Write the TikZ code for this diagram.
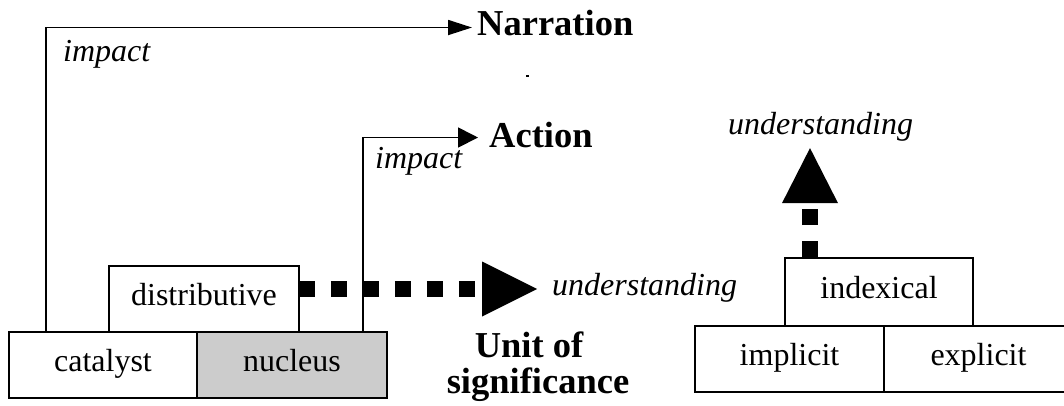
\documentclass[tikz,border=0pt]{standalone}
\usepackage{fontspec}
\setmainfont{Liberation Serif}
\usetikzlibrary{arrows.meta}
\begin{document}
\begin{tikzpicture}[x=1pt,y=-1pt,
  box/.style={draw, line width=1.8pt, rectangle, inner sep=0pt,
    minimum height=66pt, text height=20pt, text depth=8pt,
    font=\fontsize{32}{38}\selectfont},
  lbl/.style={inner sep=0pt, anchor=base west, font=\fontsize{32}{38}\selectfont\itshape},
  ttl/.style={inner sep=0pt, font=\fontsize{36.5}{36}\selectfont\bfseries},
  link/.style={line width=1.8pt},
  dotline/.style={line width=16pt, dash pattern=on 16pt off 16pt}
]
\clip (0,0) rectangle (1064,406);

% left block: catalyst / nucleus with distributive on top
\node[box, minimum width=188pt] (cat) at (103,365) {catalyst};
\node[box, minimum width=190pt, fill=black!20] (nuc) at (292,365) {nucleus};
\node[box, minimum width=190pt] (dist) at (204,299) {distributive};

% right block: implicit / explicit with indexical on top
\node[box, minimum width=189pt] (impl) at (789.5,359) {implicit};
\node[box, minimum width=189pt] (expl) at (978.5,359) {explicit};
\node[box, minimum width=188pt, minimum height=68pt] (idx) at (879,292) {indexical};

% headings
\node[ttl, anchor=base west] (narr) at (477,36) {Narration};
\node[ttl, anchor=base west] (act) at (489,148) {Action};
\node[ttl, anchor=base] (unit) at (529,357) {Unit of};
\node[ttl, anchor=base] (sig) at (538,393) {significance};

% italic labels
\node[lbl] (imp1) at (63,62) {impact};
\node[lbl] (imp2) at (375,168) {impact};
\node[lbl] (und1) at (552,295) {understanding};
\node[lbl] (und2) at (728,135) {understanding};

% impact connectors
\coordinate (nstart) at ([xshift=38pt]cat.north west);
\coordinate (astart) at ([xshift=-25pt]nuc.north east);
\draw[link, -{Triangle[length=24pt,width=15pt]}]
  (nstart) |- ([xshift=-5pt,yshift=-4pt]narr.west);
\draw[link, -{Triangle[length=20pt,width=20pt]}]
  (astart) |- ([xshift=-11pt,yshift=-2pt]act.west);

% understanding connectors
\draw[dotline, -{Triangle[length=55pt,width=55pt,line width=0pt]}]
  ([xshift=-1pt,yshift=10pt]dist.east) -- ([xshift=-15pt]und1.west |- 0,289);
\draw[dotline, -{Triangle[length=55pt,width=56pt,line width=0pt]}]
  ([xshift=-69pt]idx.north) -- ++(0,-109);

% stray full stop below the heading
\fill (526,75) rectangle (528.5,77);
\end{tikzpicture}
\end{document}
